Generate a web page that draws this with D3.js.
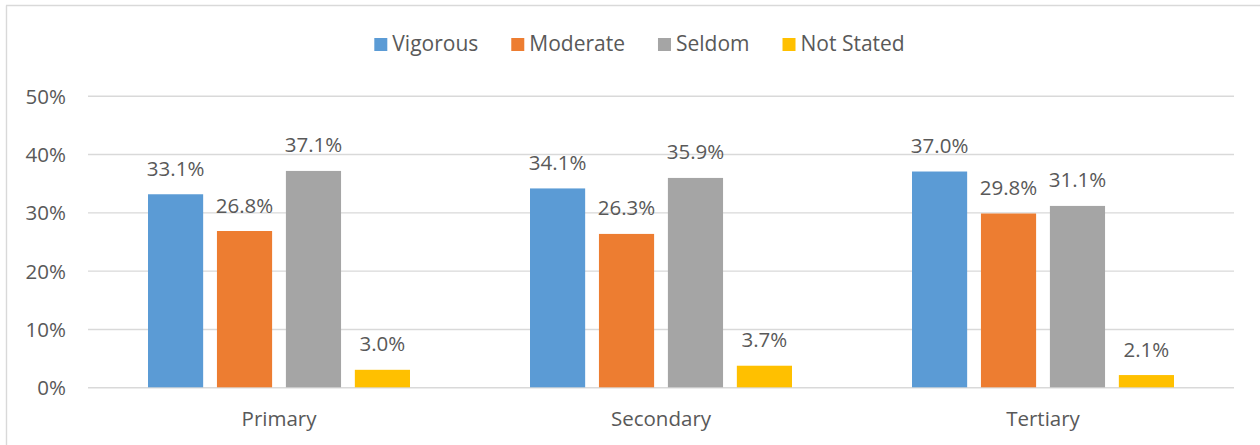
<!DOCTYPE html>
<html>
<head>
<meta charset="utf-8">
<script src="https://cdn.jsdelivr.net/npm/d3@7"></script>
<style>
  html, body { margin: 0; padding: 0; background: #fff; }
  svg { display: block; }
  text { font-family: "Open Sans", "Noto Sans", sans-serif; fill: #595959; }
</style>
</head>
<body>
<svg id="chart" width="1260" height="445"></svg>
<script>
const categories = ["Primary", "Secondary", "Tertiary"];
const seriesNames = ["Vigorous", "Moderate", "Seldom", "Not Stated"];
const seriesColors = ["#5b9bd5", "#ed7d31", "#a5a5a5", "#ffc000"];
const vigorous = [0.331, 0.341, 0.370];
const moderate = [0.268, 0.263, 0.298];
const seldom = [0.371, 0.359, 0.311];
const notStated = [0.030, 0.037, 0.021];
const yTicks = [0, 0.1, 0.2, 0.3, 0.4, 0.5];

const seriesValues = [vigorous, moderate, seldom, notStated];
const data = categories.map((c, ci) => ({
  cat: c,
  vals: seriesNames.map((s, si) => ({ s, si, v: seriesValues[si][ci] }))
}));

const svg = d3.select("#chart");
const W = 1260, H = 445;
const plotLeft = 88, plotRight = 1234, plotTop = 95.7, plotBottom = 387.3;

// outer border (chart area frame)
svg.append("line").attr("x1", 6.5).attr("x2", 6.5).attr("y1", 5.5).attr("y2", H)
  .attr("stroke", "#d9d9d9").attr("stroke-width", 1.4);
svg.append("line").attr("x1", 6).attr("x2", W).attr("y1", 5.5).attr("y2", 5.5)
  .attr("stroke", "#d9d9d9").attr("stroke-width", 1.4);

const x0 = d3.scaleBand().domain(categories).range([plotLeft, plotRight]).padding(0);
const x1 = d3.scaleBand().domain(seriesNames).range([60, 322]).paddingInner(0.2).paddingOuter(0);
const y = d3.scaleLinear().domain([0, 0.5]).range([plotBottom, plotTop]);
const fmt = d3.format(".1%");

// gridlines
const yAxis = d3.axisLeft(y).tickValues(yTicks).tickFormat(d3.format(".0%")).tickSize(-(plotRight - plotLeft)).tickPadding(22);
const gy = svg.append("g").attr("transform", `translate(${plotLeft},0)`).call(yAxis);
gy.select(".domain").remove();
gy.selectAll(".tick line").attr("stroke", "#d9d9d9").attr("stroke-width", 1.4);
gy.selectAll(".tick text").attr("font-size", 20.5).attr("fill", "#595959")
  .attr("font-family", "'Open Sans', sans-serif").attr("dy", "0.36em");

// bars
const groups = svg.append("g").selectAll("g").data(data).join("g")
  .attr("transform", d => `translate(${x0(d.cat)},0)`);
groups.selectAll("rect").data(d => d.vals).join("rect")
  .attr("x", d => x1(d.s))
  .attr("width", x1.bandwidth())
  .attr("y", d => y(d.v))
  .attr("height", d => y(0) - y(d.v))
  .attr("fill", d => seriesColors[d.si]);

// data labels
groups.selectAll("text.lbl").data(d => d.vals).join("text")
  .attr("class", "lbl")
  .attr("x", d => x1(d.s) + x1.bandwidth() / 2)
  .attr("y", d => y(d.v) - 18.5)
  .attr("text-anchor", "middle")
  .attr("font-size", 20.5)
  .text(d => fmt(d.v));

// x axis categories
const xAxis = d3.axisBottom(x0).tickSize(0).tickPadding(0);
const gx = svg.append("g").attr("transform", `translate(0,${plotBottom})`).call(xAxis);
gx.select(".domain").remove();
gx.selectAll(".tick text").attr("font-size", 20.5).attr("fill", "#595959")
  .attr("font-family", "'Open Sans', sans-serif").attr("dy", 0).attr("y", 39);

// legend
const legend = svg.append("g");
const items = legend.selectAll("g").data(seriesNames).join("g");
items.append("rect").attr("width", 13).attr("height", 13).attr("y", 38)
  .attr("fill", (d, i) => seriesColors[i]);
items.append("text").attr("x", 18).attr("y", 51).attr("font-size", 21).text(d => d);
const widths = [];
items.each(function () { widths.push(18 + this.querySelector("text").getComputedTextLength()); });
const gap = 33;
const total = d3.sum(widths) + gap * (widths.length - 1);
let start = 639.5 - total / 2;
items.attr("transform", (d, i) => {
  const t = `translate(${start},0)`;
  start += widths[i] + gap;
  return t;
});
</script>
</body>
</html>
